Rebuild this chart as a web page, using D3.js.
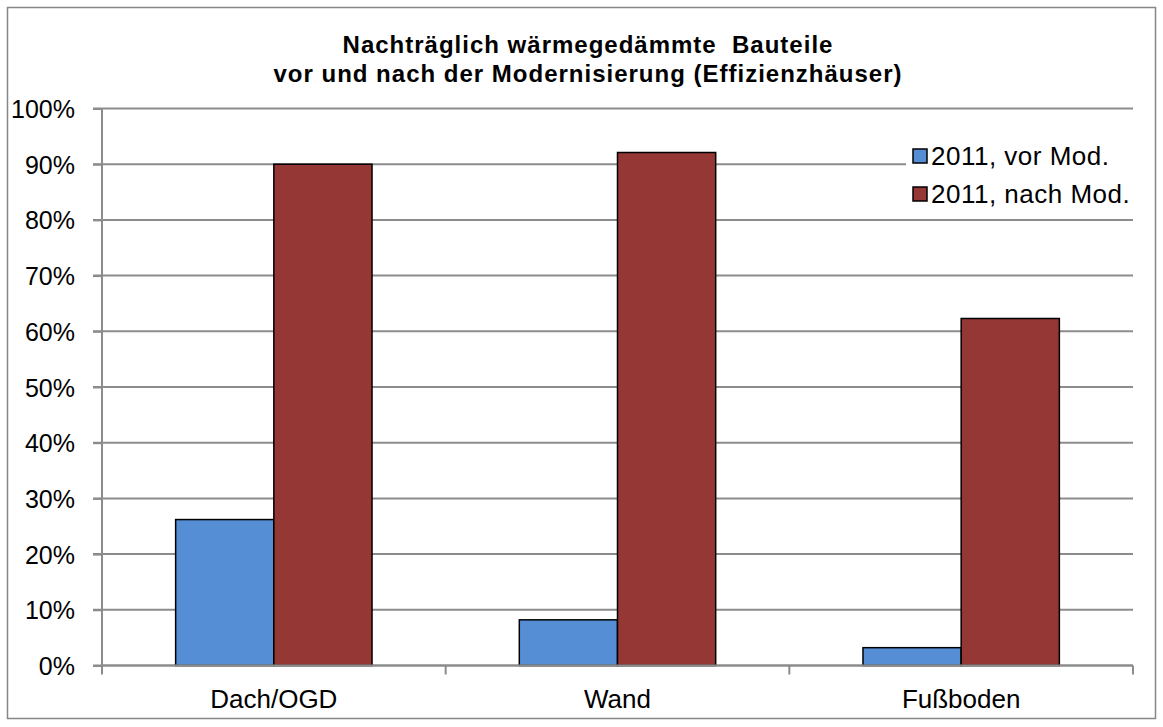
<!DOCTYPE html>
<html>
<head>
<meta charset="utf-8">
<script src="https://cdn.jsdelivr.net/npm/d3@7"></script>
<style>
  body { margin: 0; background: #fff; }
  text { font-family: "Liberation Sans", Arial, sans-serif; }
</style>
</head>
<body>
<svg width="1163" height="727"></svg>
<script>
// categories and series
const categories = ['Dach/OGD', 'Wand', 'Fußboden'];
const seriesNames = ['2011, vor Mod.', '2011, nach Mod.'];
const vorMod = [0.262, 0.082, 0.032];
const nachMod = [0.90, 0.921, 0.623];
const yTicks = [0, 0.1, 0.2, 0.3, 0.4, 0.5, 0.6, 0.7, 0.8, 0.9, 1.0];
const titleLines = ['Nachträglich wärmegedämmte  Bauteile', 'vor und nach der Modernisierung (Effizienzhäuser)'];
const colors = ['#558ed5', '#953735'];

const svg = d3.select("svg");

// outer frame
svg.append("rect")
    .attr("x", 7.5).attr("y", 7.5)
    .attr("width", 1148).attr("height", 711)
    .attr("fill", "#fff")
    .attr("stroke", "#868686")
    .attr("stroke-width", 1.5);

const plotLeft = 102, plotRight = 1133, plotTop = 108.5, plotBottom = 665.5;

const y = d3.scaleLinear().domain([0, 1]).range([plotBottom, plotTop]);
const x = d3.scaleBand().domain(categories).range([plotLeft, plotRight])
    .paddingInner(1.5 / 3.5).paddingOuter(0.75 / 3.5);
const xs = d3.scaleBand().domain([0, 1]).range([0, x.bandwidth()]);

// gridlines
svg.append("g")
    .selectAll("line")
    .data(yTicks)
    .enter()
    .append("line")
    .attr("x1", plotLeft - 9)
    .attr("x2", plotRight)
    .attr("y1", d => y(d))
    .attr("y2", d => y(d))
    .style("stroke", "#8c8c8c")
    .style("stroke-width", 2);

// y axis
const yAxis = svg.append("g")
    .attr("transform", `translate(${plotLeft},0)`)
    .call(d3.axisLeft(y).tickValues(yTicks).tickFormat(d3.format(".0%")).tickSize(9).tickPadding(18));
yAxis.selectAll("line").style("stroke", "#8c8c8c").style("stroke-width", 2);
yAxis.select(".domain").style("stroke", "#8c8c8c").style("stroke-width", 2).attr("d", `M0,${plotTop}V${plotBottom}`);
yAxis.selectAll("text").style("font-size", "25px").style("fill", "#000")
    .attr("dy", "0.36em")
    .style("font-family", "'Liberation Sans', Arial, sans-serif");

// bars
const groups = svg.append("g")
    .selectAll("g")
    .data(categories)
    .enter()
    .append("g")
    .attr("transform", d => `translate(${x(d)},0)`);

groups.selectAll("rect")
    .data((d, i) => [vorMod[i], nachMod[i]])
    .enter()
    .append("rect")
    .attr("x", (d, j) => xs(j))
    .attr("y", d => y(d))
    .attr("width", xs.bandwidth())
    .attr("height", d => plotBottom - y(d))
    .attr("fill", (d, j) => colors[j])
    .attr("stroke", "#000")
    .attr("stroke-width", 1.5);

// x axis
const xAxis = svg.append("g")
    .attr("transform", `translate(0,${plotBottom})`)
    .call(d3.axisBottom(x).tickSize(0).tickPadding(24));
xAxis.select(".domain").style("stroke", "#8c8c8c").style("stroke-width", 2).attr("d", `M${plotLeft},0H${plotRight}`);
xAxis.selectAll("text").style("font-size", "26px").style("fill", "#000")
    .style("font-family", "'Liberation Sans', Arial, sans-serif");

// x ticks between categories
const xTickPos = [plotLeft].concat(categories.map(c => x(c) + x.bandwidth() + x.step() * x.paddingInner() / 2));
svg.append("g")
    .selectAll("line")
    .data(xTickPos)
    .enter()
    .append("line")
    .attr("x1", d => d).attr("x2", d => d)
    .attr("y1", plotBottom).attr("y2", plotBottom + 9)
    .style("stroke", "#8c8c8c")
    .style("stroke-width", 2);

// title
svg.append("text")
    .attr("y", 53)
    .attr("text-anchor", "middle")
    .style("font-size", "24px")
    .style("font-weight", "bold")
    .style("letter-spacing", "1px")
    .style("white-space", "pre")
    .selectAll("tspan")
    .data(titleLines)
    .enter()
    .append("tspan")
    .attr("x", 588)
    .attr("dy", (d, i) => i === 0 ? 0 : 29)
    .text(d => d);

// legend
const legend = svg.append("g");
legend.append("rect")
    .attr("x", 906).attr("y", 141)
    .attr("width", 229).attr("height", 72)
    .attr("fill", "#fff");
const items = legend.selectAll("g.item")
    .data(seriesNames)
    .enter()
    .append("g")
    .attr("class", "item")
    .attr("transform", (d, i) => `translate(913,${156 + i * 38})`);
items.append("rect")
    .attr("x", 0).attr("y", -7)
    .attr("width", 14).attr("height", 14)
    .attr("fill", (d, i) => colors[i])
    .attr("stroke", "#000")
    .attr("stroke-width", 1.5);
items.append("text")
    .attr("x", 18)
    .attr("y", 9)
    .style("font-size", "26px")
    .style("letter-spacing", "0.5px")
    .text(d => d);
</script>
</body>
</html>
